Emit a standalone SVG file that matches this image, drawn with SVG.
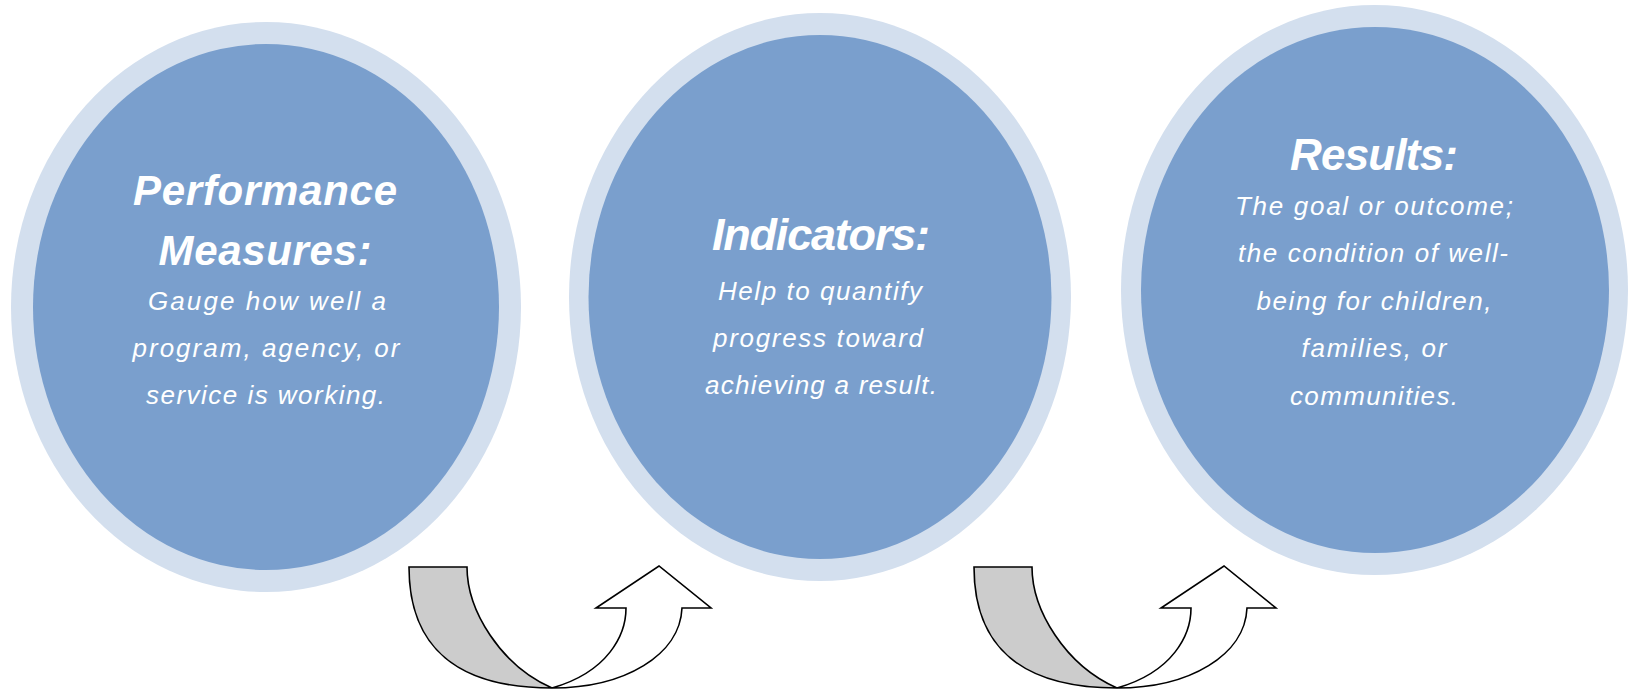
<svg xmlns="http://www.w3.org/2000/svg" width="1630" height="692" viewBox="0 0 1630 692">
<style>
.ring{fill:#D3DFEE}
.core{fill:#7A9FCD}
.title{font-family:"Liberation Sans",Arial,sans-serif;font-weight:bold;font-style:italic;fill:#FFFFFF;text-anchor:middle}
.body{font-family:"Liberation Sans",Arial,sans-serif;font-style:italic;font-size:26px;fill:#FFFFFF;text-anchor:middle}
.back{fill:#CCCCCC;stroke:#000;stroke-width:1.6;stroke-linejoin:miter}
.front{fill:#FFFFFF;stroke:#000;stroke-width:1.6;stroke-linejoin:miter}
</style>
<rect width="1630" height="692" fill="#FFFFFF"/>
<g id="node-performance-measures">
<ellipse class="ring" cx="266" cy="307" rx="255" ry="285"/>
<ellipse class="core" cx="266" cy="307" rx="233" ry="263"/>
<text class="title" x="265" y="205" font-size="42" textLength="264">Performance</text>
<text class="title" x="265" y="265" font-size="42" textLength="213">Measures:</text>
<text class="body" x="267" y="310" textLength="238">Gauge how well a</text>
<text class="body" x="266" y="357" textLength="267">program, agency, or</text>
<text class="body" x="265.5" y="404" textLength="239">service is working.</text>
</g>
<g id="node-indicators">
<ellipse class="ring" cx="820" cy="297" rx="251" ry="284"/>
<ellipse class="core" cx="820" cy="297" rx="231.5" ry="262"/>
<text class="title" x="821" y="250" font-size="45" textLength="218">Indicators:</text>
<text class="body" x="820" y="300" textLength="204">Help to quantify</text>
<text class="body" x="818" y="347" textLength="210">progress toward</text>
<text class="body" x="821" y="394" textLength="232">achieving a result.</text>
</g>
<g id="node-results">
<ellipse class="ring" cx="1374.5" cy="290" rx="253.5" ry="285"/>
<ellipse class="core" cx="1375" cy="290" rx="234" ry="263"/>
<text class="title" x="1374" y="170" font-size="44" textLength="168">Results:</text>
<text class="body" x="1374" y="215" textLength="278">The goal or outcome;</text>
<text class="body" x="1373" y="262" textLength="270">the condition of well-</text>
<text class="body" x="1374" y="309.5" textLength="235">being for children,</text>
<text class="body" x="1374" y="357" textLength="145">families, or</text>
<text class="body" x="1374" y="405" textLength="168">communities.</text>
</g>
<g id="connectors">
<g id="arrow-1">
<path class="back" d="M409,567 L467,567 C467,610 500,665 552,688 C458,688 409,648 409,567 Z"/>
<path class="front" d="M552,688 C608,672 626,635 626,608 L596,608 L659,566 L711,608 L682,608 C680,655 625,688 552,688 Z"/>
</g>
<g id="arrow-2" transform="translate(565,0)">
<path class="back" d="M409,567 L467,567 C467,610 500,665 552,688 C458,688 409,648 409,567 Z"/>
<path class="front" d="M552,688 C608,672 626,635 626,608 L596,608 L659,566 L711,608 L682,608 C680,655 625,688 552,688 Z"/>
</g>
</g>
</svg>
